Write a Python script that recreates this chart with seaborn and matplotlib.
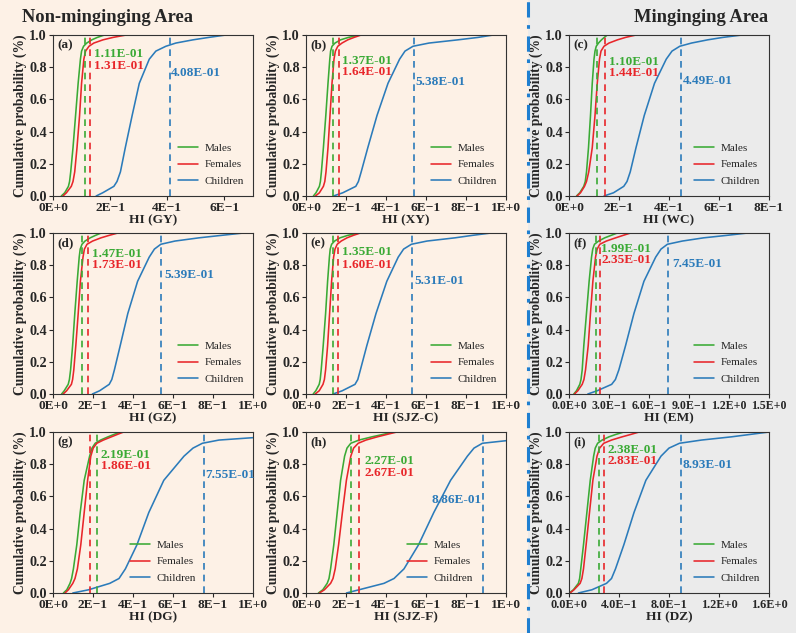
import pandas as pd
import seaborn as sns
import matplotlib.pyplot as plt
from matplotlib.patches import Rectangle
from matplotlib.lines import Line2D

# cumulative probability levels at which HI values were read
P = [0, 0.02, 0.06, 0.09, 0.15, 0.3, 0.5, 0.7, 0.85, 0.9, 0.93, 0.95, 0.97, 0.985, 1.0]

# (a) GY
a_males = [0.029, 0.041, 0.054, 0.058, 0.062, 0.070, 0.079, 0.088, 0.096, 0.100, 0.107, 0.118, 0.136, 0.155, 0.180]
a_females = [0.035, 0.047, 0.064, 0.070, 0.076, 0.084, 0.093, 0.100, 0.108, 0.114, 0.126, 0.143, 0.175, 0.210, 0.256]
a_children = [0.151, 0.174, 0.213, 0.224, 0.236, 0.253, 0.277, 0.302, 0.337, 0.360, 0.395, 0.430, 0.490, 0.545, 0.605]
a_p95 = [0.111, 0.131, 0.408]
# (b) XY
b_males = [0.037, 0.050, 0.067, 0.072, 0.077, 0.087, 0.099, 0.110, 0.119, 0.123, 0.130, 0.145, 0.173, 0.212, 0.268]
b_females = [0.047, 0.067, 0.087, 0.094, 0.100, 0.110, 0.120, 0.130, 0.140, 0.147, 0.159, 0.180, 0.209, 0.240, 0.276]
b_children = [0.137, 0.184, 0.249, 0.262, 0.276, 0.309, 0.355, 0.410, 0.468, 0.495, 0.535, 0.615, 0.760, 0.860, 0.936]
b_p95 = [0.137, 0.164, 0.538]
# (c) WC
c_males = [0.030, 0.043, 0.059, 0.065, 0.070, 0.078, 0.086, 0.093, 0.100, 0.104, 0.109, 0.118, 0.130, 0.141, 0.153]
c_females = [0.032, 0.046, 0.062, 0.070, 0.079, 0.093, 0.104, 0.113, 0.122, 0.128, 0.140, 0.160, 0.194, 0.226, 0.268]
c_children = [0.140, 0.178, 0.219, 0.232, 0.245, 0.268, 0.301, 0.342, 0.389, 0.412, 0.443, 0.490, 0.555, 0.615, 0.692]
c_p95 = [0.110, 0.144, 0.449]
# (d) GZ
d_males = [0.043, 0.056, 0.076, 0.082, 0.088, 0.098, 0.109, 0.121, 0.131, 0.136, 0.145, 0.160, 0.186, 0.212, 0.241]
d_females = [0.051, 0.068, 0.092, 0.098, 0.104, 0.114, 0.126, 0.137, 0.150, 0.157, 0.170, 0.198, 0.240, 0.280, 0.324]
d_children = [0.197, 0.233, 0.281, 0.294, 0.307, 0.336, 0.374, 0.423, 0.481, 0.507, 0.539, 0.610, 0.730, 0.840, 0.952]
d_p95 = [0.147, 0.173, 0.539]
# (e) SJZ-C
e_males = [0.036, 0.049, 0.066, 0.071, 0.076, 0.086, 0.098, 0.108, 0.117, 0.121, 0.128, 0.143, 0.170, 0.208, 0.264]
e_females = [0.046, 0.066, 0.085, 0.092, 0.098, 0.108, 0.118, 0.128, 0.138, 0.145, 0.156, 0.176, 0.205, 0.236, 0.272]
e_children = [0.135, 0.181, 0.245, 0.259, 0.272, 0.304, 0.350, 0.404, 0.461, 0.488, 0.527, 0.605, 0.745, 0.830, 0.925]
e_p95 = [0.135, 0.160, 0.531]
# (f) EM
f_males = [0.036, 0.056, 0.081, 0.090, 0.099, 0.111, 0.131, 0.151, 0.169, 0.178, 0.191, 0.222, 0.268, 0.315, 0.362]
f_females = [0.041, 0.066, 0.099, 0.112, 0.124, 0.144, 0.161, 0.179, 0.199, 0.211, 0.231, 0.280, 0.350, 0.405, 0.462]
f_children = [0.141, 0.211, 0.320, 0.348, 0.374, 0.424, 0.487, 0.562, 0.650, 0.690, 0.738, 0.850, 1.010, 1.180, 1.340]
f_p95 = [0.199, 0.235, 0.745]
# (g) DG
g_males = [0.052, 0.069, 0.085, 0.093, 0.102, 0.119, 0.136, 0.156, 0.183, 0.195, 0.211, 0.238, 0.275, 0.305, 0.337]
g_females = [0.060, 0.077, 0.099, 0.110, 0.122, 0.139, 0.156, 0.173, 0.189, 0.201, 0.219, 0.252, 0.292, 0.322, 0.353]
g_children = [0.099, 0.178, 0.284, 0.330, 0.362, 0.420, 0.479, 0.554, 0.655, 0.700, 0.747, 0.830, 1.060, 1.250, 1.400]
g_p95 = [0.219, 0.186, 0.755]
# (h) SJZ-F
h_males = [0.062, 0.084, 0.106, 0.115, 0.123, 0.139, 0.156, 0.173, 0.193, 0.205, 0.224, 0.265, 0.330, 0.385, 0.437]
h_females = [0.067, 0.092, 0.123, 0.135, 0.146, 0.163, 0.182, 0.202, 0.224, 0.238, 0.261, 0.300, 0.357, 0.405, 0.454]
h_children = [0.202, 0.265, 0.390, 0.440, 0.490, 0.563, 0.639, 0.723, 0.807, 0.840, 0.882, 1.030, 1.250, 1.400, 1.550]
h_p95 = [0.227, 0.267, 0.886]
# (i) DZ
i_males = [0.003, 0.035, 0.075, 0.085, 0.094, 0.116, 0.143, 0.170, 0.197, 0.210, 0.229, 0.265, 0.320, 0.375, 0.439]
i_females = [0.008, 0.040, 0.089, 0.103, 0.116, 0.137, 0.164, 0.191, 0.224, 0.245, 0.278, 0.340, 0.425, 0.495, 0.561]
i_children = [0.075, 0.183, 0.300, 0.340, 0.372, 0.439, 0.520, 0.615, 0.736, 0.800, 0.884, 1.060, 1.300, 1.450, 1.600]
i_p95 = [0.238, 0.283, 0.893]

p95_labels = {
    "a": ["1.11E-01", "1.31E-01", "4.08E-01"],
    "b": ["1.37E-01", "1.64E-01", "5.38E-01"],
    "c": ["1.10E-01", "1.44E-01", "4.49E-01"],
    "d": ["1.47E-01", "1.73E-01", "5.39E-01"],
    "e": ["1.35E-01", "1.60E-01", "5.31E-01"],
    "f": ["1.99E-01", "2.35E-01", "7.45E-01"],
    "g": ["2.19E-01", "1.86E-01", "7.55E-01"],
    "h": ["2.27E-01", "2.67E-01", "8.86E-01"],
    "i": ["2.38E-01", "2.83E-01", "8.93E-01"],
}

ticks_07 = [0, 0.2, 0.4, 0.6]
labels_07 = ["0E+0", "2E\u22121", "4E\u22121", "6E\u22121"]
ticks_10 = [0, 0.2, 0.4, 0.6, 0.8, 1.0]
labels_10 = ["0E+0", "2E\u22121", "4E\u22121", "6E\u22121", "8E\u22121", "1E+0"]
ticks_08 = [0, 0.2, 0.4, 0.6, 0.8]
labels_08 = ["0E+0", "2E\u22121", "4E\u22121", "6E\u22121", "8E\u22121"]
ticks_15 = [0, 0.3, 0.6, 0.9, 1.2, 1.5]
labels_15 = ["0.0E+0", "3.0E\u22121", "6.0E\u22121", "9.0E\u22121", "1.2E+0", "1.5E+0"]
ticks_16 = [0, 0.4, 0.8, 1.2, 1.6]
labels_16 = ["0.0E+0", "4.0E\u22121", "8.0E\u22121", "1.2E+0", "1.6E+0"]

GREEN = "#3AAA35"
RED = "#E8262A"
BLUE = "#2B7BBA"
palette = {"Males": GREEN, "Females": RED, "Children": BLUE}

# key, site, data, xmax, ticks, labels, tick size, (col,row), text layout, legend right anchor
panels = [
    ("a", "GY", (a_males, a_females, a_children, a_p95), 0.7, ticks_07, labels_07, 9.6, (0, 0),
     (0.145, 0.88, 0.145, 0.806, 0.413, 0.765, "left"), 0.99),
    ("b", "XY", (b_males, b_females, b_children, b_p95), 1.0, ticks_10, labels_10, 9.6, (1, 0),
     (0.18, 0.84, 0.18, 0.77, 0.548, 0.707, "left"), 0.99),
    ("c", "WC", (c_males, c_females, c_children, c_p95), 0.8, ticks_08, labels_08, 9.6, (2, 0),
     (0.16, 0.83, 0.16, 0.763, 0.456, 0.713, "left"), 0.99),
    ("d", "GZ", (d_males, d_females, d_children, d_p95), 1.0, ticks_10, labels_10, 9.6, (0, 1),
     (0.197, 0.87, 0.197, 0.80, 0.555, 0.74, "left"), 0.99),
    ("e", "SJZ-C", (e_males, e_females, e_children, e_p95), 1.0, ticks_10, labels_10, 9.6, (1, 1),
     (0.18, 0.88, 0.18, 0.80, 0.54, 0.70, "left"), 0.99),
    ("f", "EM", (f_males, f_females, f_children, f_p95), 1.5, ticks_15, labels_15, 8.6, (2, 1),
     (0.242, 0.90, 0.242, 0.83, 0.775, 0.807, "left"), 0.99),
    ("g", "DG", (g_males, g_females, g_children, g_p95), 1.0, ticks_10, labels_10, 9.6, (0, 2),
     (0.236, 0.86, 0.241, 0.79, 0.759, 0.73, "left"), 0.75),
    ("h", "SJZ-F", (h_males, h_females, h_children, h_p95), 1.0, ticks_10, labels_10, 9.6, (1, 2),
     (0.291, 0.82, 0.291, 0.745, 0.878, 0.575, "right"), 0.87),
    ("i", "DZ", (i_males, i_females, i_children, i_p95), 1.6, ticks_16, labels_16, 8.8, (2, 2),
     (0.305, 0.89, 0.305, 0.82, 0.911, 0.793, "left"), 0.99),
]

sns.set_style("ticks")
plt.rcParams["font.family"] = ["Liberation Serif", "DejaVu Serif"]
plt.rcParams["axes.linewidth"] = 0.8

W, H = 796, 633
fig = plt.figure(figsize=(W / 100, H / 100), dpi=100)
fig.patch.set_facecolor("#FDF1E6")
split = 528 / W
fig.add_artist(Rectangle((split, 0), 1 - split, 1, transform=fig.transFigure,
                         facecolor="#EBEBEB", edgecolor="none", zorder=0))
fig.add_artist(Line2D([split, split], [0, 1], transform=fig.transFigure, color="#1F7FD0",
                      lw=2.2, ls=(0, (5, 2.5, 1.2, 2.5)), zorder=1))

fig.text(22 / W, 1 - 17 / H, "Non-minginging Area", fontsize=13.3, fontweight="bold", va="center")
fig.text(768 / W, 1 - 17 / H, "Minginging Area", fontsize=13.3, fontweight="bold", va="center", ha="right")

lefts = [53, 306, 569]
bottoms = [196, 394, 593]

for key, site, data, xmax, ticks, labels, tsize, (col, row), tl, leg_x in panels:
    males, females, children, p95 = data
    ax = fig.add_axes([lefts[col] / W, 1 - bottoms[row] / H, 200 / W, 161 / H])
    ax.set_facecolor("none")
    df = pd.DataFrame({
        "HI": males + females + children,
        "prob": P * 3,
        "group": ["Males"] * len(P) + ["Females"] * len(P) + ["Children"] * len(P),
    })
    sns.lineplot(data=df, x="HI", y="prob", hue="group", palette=palette,
                 estimator=None, sort=False, lw=1.15, ax=ax)
    for v, c in zip(p95, [GREEN, RED, BLUE]):
        ax.axvline(v, color=c, lw=1.2, ls=(0, (4, 3)))
    txt = p95_labels[key]
    tx_g, ty_g, tx_r, ty_r, tx_b, ty_b, ha_b = tl
    ax.text(tx_g, ty_g, txt[0], color=GREEN, fontsize=9.5, fontweight="bold", va="center")
    ax.text(tx_r, ty_r, txt[1], color=RED, fontsize=9.5, fontweight="bold", va="center")
    ax.text(tx_b, ty_b, txt[2], color=BLUE, fontsize=9.5, fontweight="bold", va="center",
            ha=ha_b, clip_on=False)
    ax.text(0.02, 0.935, f"({key})", transform=ax.transAxes, fontsize=9.5,
            fontweight="bold", va="center")

    ax.set_xlim(0, xmax)
    ax.set_ylim(0, 1)
    ax.set_xticks(ticks)
    ax.set_xticklabels(labels, fontsize=tsize, fontweight="bold")
    ax.set_yticks([0, 0.2, 0.4, 0.6, 0.8, 1.0])
    ax.set_yticklabels(["0.0", "0.2", "0.4", "0.6", "0.8", "1.0"], fontsize=10.2, fontweight="bold")
    ax.tick_params(direction="out", length=3, width=0.8, pad=1.5)
    for s in ax.spines.values():
        s.set_visible(True)
        s.set_color("#333333")
    ax.set_xlabel(f"HI ({site})", fontsize=9.6, fontweight="bold", labelpad=0)
    ax.set_ylabel("Cumulative probability (%)", fontsize=9.8, fontweight="bold", labelpad=1.5)
    sns.move_legend(ax, "lower right", bbox_to_anchor=(leg_x, 0.02), frameon=False,
                    title=None, fontsize=8, handlelength=1.8, labelspacing=0.62,
                    handletextpad=0.6, borderaxespad=0.2)

fig.savefig("out.png", dpi=100, facecolor=fig.get_facecolor())
